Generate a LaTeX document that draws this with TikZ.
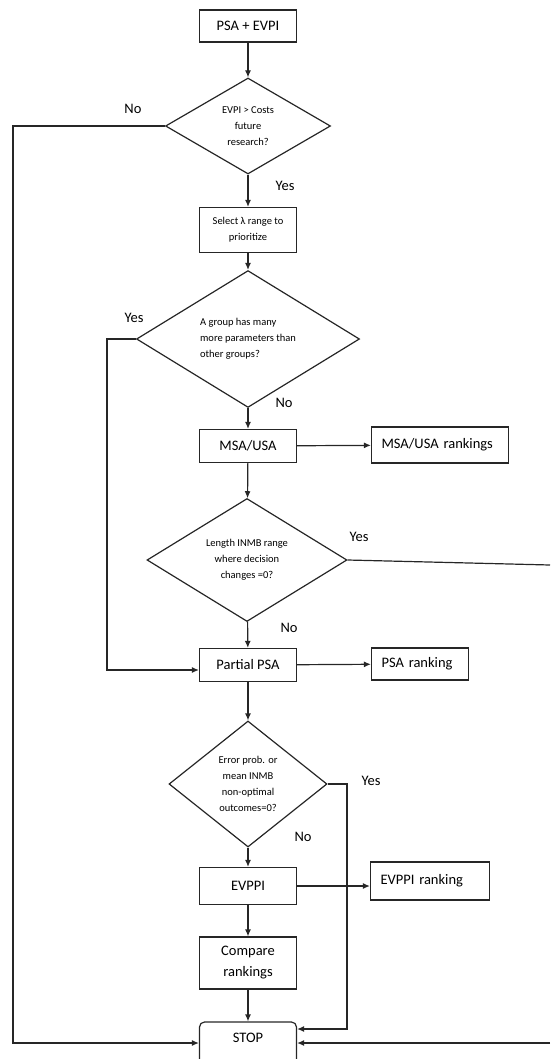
\documentclass[tikz,border=0pt]{standalone}
\usepackage{fontspec}
\setmainfont{Carlito}
\usetikzlibrary{shapes.geometric,arrows.meta}

\begin{document}
\begin{tikzpicture}[x=1pt, y=-1pt, >={Latex[length=7pt,width=6pt]}, line width=1.2pt, color=black!85,
block/.style = {rectangle, draw, text=black, align=center, inner sep=2pt, font=\fontsize{14.5}{21}\selectfont},
small/.style = {font=\fontsize{10.5}{16}\selectfont},
rank/.style = {block, align=left, inner xsep=10pt},
decision/.style = {diamond, draw, text=black, inner sep=0pt, align=center, font=\fontsize{10.5}{16}\selectfont},
answer/.style = {text=black, font=\fontsize{14.5}{17}\selectfont}]
\useasboundingbox (0,0) rectangle (550,1059);
\node[block, minimum width=97, minimum height=32] at (248,26) (psa) {PSA + EVPI};
\node[decision, minimum width=165, minimum height=96] at (248,126) (evpi) {EVPI > Costs\\future\\research?};
\node[block, small, minimum width=97, minimum height=45] at (248,230) (lambda) {Select λ range to\\prioritize};
\node[decision, align=left, minimum width=223, minimum height=103] at (248,339) (group) {A group has many\\more parameters than\\other groups?};
\node[block, minimum width=97, minimum height=33] at (248,446) (msa) {MSA/USA};
\node[rank, text width=117, minimum height=36] at (440,445) (msarank) {MSA/USA rankings};
\node[decision, minimum width=200, minimum height=113] at (247,560) (inmb) {Length INMB range\\where decision\\changes =0?};
\node[block, minimum width=97, minimum height=33] at (248,665) (partial) {Partial PSA};
\node[rank, text width=77, minimum height=32] at (420,664) (psarank) {PSA ranking};
\node[decision, minimum width=158, minimum height=126] at (248,784) (error) {Error prob. or\\mean INMB\\non-optimal\\outcomes=0?};
\node[block, minimum width=97, minimum height=37] at (248,886) (evppi) {EVPPI};
\node[rank, text width=99, minimum height=38] at (430,881) (evppirank) {EVPPI ranking};
\node[block, minimum width=97, minimum height=52] at (248,963) (compare) {Compare\\rankings};
\node[block, rounded corners=5pt, minimum width=97, text height=14pt, text depth=16pt, inner sep=6pt] at (248,1043) (stop) {STOP};
% answers
\node[answer] at (133,109) (no1) {No};
\node[answer] at (285,186) (yes1) {Yes};
\node[answer] at (134,318) (yes2) {Yes};
\node[answer] at (284,403) (no2) {No};
\node[answer] at (359,537) (yes3) {Yes};
\node[answer] at (289,628) (no3) {No};
\node[answer] at (371,781) (yes4) {Yes};
\node[answer] at (303,837) (no4) {No};
% turning points
\coordinate (left) at (13,126);
\coordinate (back) at (107,339);
\coordinate (side) at (347,784);
\coordinate (edge1) at (550,565);
\coordinate (edge2) at (550,1043);
\draw [->] (psa) -- (evpi);
\draw [->] (evpi) -- (lambda);
\draw [->] (lambda) -- (group);
\draw [->] (group) -- (msa);
\draw [->] (msa) -- (msarank);
\draw [->] (msa) -- (inmb);
\draw [->] (inmb) -- (partial);
\draw [->] (partial) -- (psarank);
\draw [->] (partial) -- (error);
\draw [->] (error) -- (evppi);
\draw [->] (evppi.east) -- (evppirank.west |- evppi.east);
\draw [->] (evppi) -- (compare);
\draw [->] (compare) -- (stop);
\draw [->] (evpi.west) -- (left) |- (stop.west);
\draw [->] (group.west) -- (back) |- ([yshift=-5pt]partial.west);
\draw [->] (error.east) -- (side) |- ([yshift=14pt]stop.east);
\draw (inmb.east) -- (edge1);
\draw [->] (edge2) -- (stop.east);
\end{tikzpicture}
\end{document}
